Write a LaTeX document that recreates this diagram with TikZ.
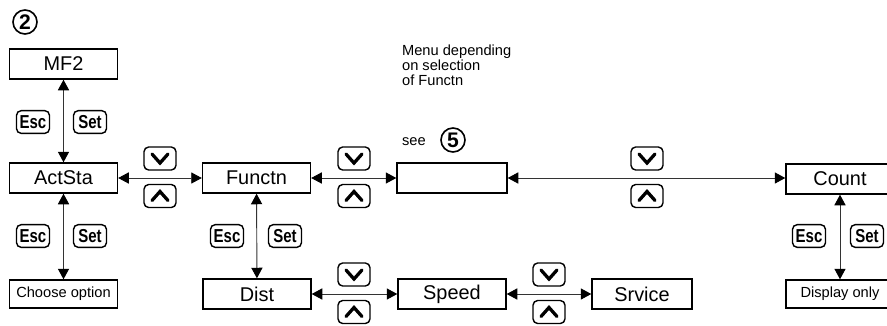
\documentclass[tikz,border=0pt]{standalone}
\usepackage{fontspec}
\setmainfont{Liberation Sans}
\usetikzlibrary{arrows.meta, positioning}
\definecolor{MenuBlack}{HTML}{000000}
\definecolor{MenuGray}{HTML}{333333}
\newcommand{\keytext}[1]{\scalebox{0.8}[1]{\fontsize{16}{16}\selectfont\bfseries #1}}
\tikzset{
    % Display boxes
    menubox/.style={
        rectangle,
        draw=MenuBlack,
        line width=1.2pt,
        minimum width=3.24cm,
        minimum height=0.9cm,
        inner sep=0pt,
        text centered,
        font=\fontsize{17}{19}\selectfont
    },
    notebox/.style={
        menubox,
        minimum height=0.84cm,
        font=\fontsize{12.5}{14}\selectfont
    },
    % Push buttons
    keybox/.style={
        rectangle,
        rounded corners=4pt,
        draw=MenuBlack,
        line width=1.2pt,
        minimum width=0.99cm,
        minimum height=0.68cm,
        inner sep=0pt
    },
    chevron/.style={
        line width=2.8pt,
        line cap=round,
        line join=miter,
        MenuBlack
    },
    downkey/.pic={
        \draw[line width=1.2pt, rounded corners=4pt] (-16,-11.5) rectangle (16,11.5);
        \draw[chevron] (-8,-4.5) -- (0,4.5) -- (8,-4.5);
    },
    upkey/.pic={
        \draw[line width=1.2pt, rounded corners=4pt] (-16,-11.5) rectangle (16,11.5);
        \draw[chevron] (-8,4.5) -- (0,-4.5) -- (8,4.5);
    },
    circnum/.style={
        circle,
        draw=MenuBlack,
        line width=1.4pt,
        minimum size=0.72cm,
        inner sep=0pt,
        font=\fontsize{18}{18}\selectfont\bfseries
    },
    % Arrow styles
    navarrow/.style={
        {Triangle[length=9pt,width=9.5pt,color=MenuBlack]}-{Triangle[length=9pt,width=9.5pt,color=MenuBlack]},
        line width=0.8pt,
        MenuGray
    }
}
\begin{document}
\begin{tikzpicture}[x=0.03cm, y=-0.03cm]
    \useasboundingbox (0,0) rectangle (887,325);

    \node[circnum] (two) at (25,22) {2};

    % upper row
    \node[menubox] (mf2) at (63.5,64) {MF2};
    \node[menubox] (actsta) at (63.5,178) {ActSta};
    \node[menubox] (functn) at (256.5,178) {Functn};
    \node[menubox, minimum width=3.3cm] (blank) at (452,178) {};
    \node[menubox] (count) at (840,179) {Count};

    % lower row
    \node[notebox] (choose) at (63.5,294) {Choose option};
    \node[menubox] (dist) at (257,294) {Dist};
    \node[menubox] (speed) at (452,294) {Speed};
    \node[menubox, minimum width=3cm] (srvice) at (642,294) {Srvice};
    \node[notebox] (display) at (840,294) {Display only};

    % note
    \node[anchor=base west, align=left, font=\fontsize{12.5}{12.8}\selectfont] (menunote) at (398,85)
        {Menu depending\\on selection\\of Functn};
    \node[anchor=base west, font=\fontsize{12.5}{14}\selectfont] (see) at (398,145) {see};
    \node[circnum] (five) at (453,140) {5};

    % Esc / Set buttons
    \node[keybox] (esc1) at (33,122) {\keytext{Esc}};
    \node[keybox] (set1) at (90,122) {\keytext{Set}};
    \node[keybox] (esc2) at (33,236) {\keytext{Esc}};
    \node[keybox] (set2) at (90,236) {\keytext{Set}};
    \node[keybox] (esc3) at (227,236) {\keytext{Esc}};
    \node[keybox] (set3) at (285,236) {\keytext{Set}};
    \node[keybox] (esc4) at (809,236) {\keytext{Esc}};
    \node[keybox] (set4) at (867,236) {\keytext{Set}};

    % up / down buttons
    \foreach \kx/\ky in {160/178, 354/178, 647/178, 354/294, 549/294} {
        \pic at (\kx,\ky-19.5) {downkey};
        \pic at (\kx,\ky+18) {upkey};
    }

    % connections
    \draw[navarrow] (mf2) -- (actsta);
    \draw[navarrow] (actsta) -- (choose);
    \draw[navarrow] (functn) -- (dist);
    \draw[navarrow] (count) -- (display);
    \draw[navarrow] (actsta) -- (functn);
    \draw[navarrow] (functn) -- (blank);
    \draw[navarrow] (blank) -- (blank -| count.west);
    \draw[navarrow] (dist) -- (speed);
    \draw[navarrow] (speed) -- (srvice);
\end{tikzpicture}
\end{document}
